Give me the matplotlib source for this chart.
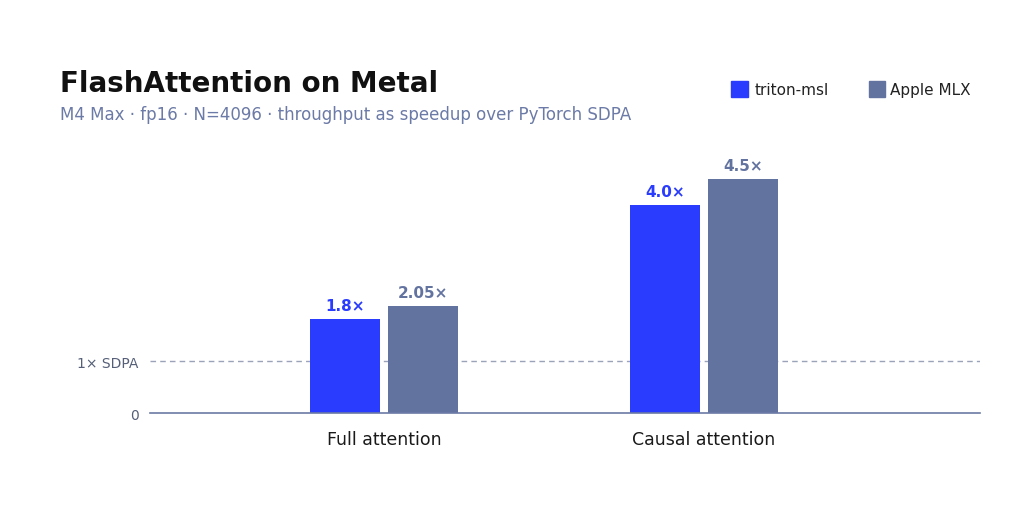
import matplotlib.pyplot as plt
import numpy as np

plt.rcParams['font.family'] = ['DejaVu Sans']

groups = ['Full attention', 'Causal attention']
triton = [1.8, 4.0]
mlx = [2.05, 4.5]
triton_lbl = ['1.8×', '4.0×']
mlx_lbl = ['2.05×', '4.5×']

c_triton = '#2a3cfd'
c_mlx = '#6373a0'
c_axis = '#6b7aa6'

fig = plt.figure(figsize=(10.2, 5.1), dpi=100)
ax = fig.add_axes([0.147, 0.188, 0.814, 0.518])

x = np.arange(len(groups))
w = 0.219
off = 0.122
ax.bar(x - off, triton, w, color=c_triton, label='triton-msl')
ax.bar(x + off, mlx, w, color=c_mlx, label='Apple MLX')
for i in range(len(groups)):
    ax.text(x[i] - off, triton[i] + 0.12, triton_lbl[i], ha='center', va='bottom',
            color=c_triton, fontsize=11, fontweight='bold')
    ax.text(x[i] + off, mlx[i] + 0.12, mlx_lbl[i], ha='center', va='bottom',
            color=c_mlx, fontsize=11, fontweight='bold')

ax.axhline(1, color='#9aa3b8', lw=1, ls=(0, (4, 3)), zorder=0)
ax.set_xlim(-0.731, 1.8625)
ax.set_ylim(0, 5.077)
for s in ['top', 'right', 'left']:
    ax.spines[s].set_visible(False)
ax.spines['bottom'].set_color(c_axis)
ax.spines['bottom'].set_linewidth(1.2)
ax.set_yticks([0, 1])
ax.set_yticklabels(['0', '1× SDPA'], color='#555f78', fontsize=10)
ax.set_xticks(x)
ax.set_xticklabels(groups, fontsize=12.5, color='#1a1a1a')
ax.tick_params(axis='both', length=0, pad=8)
ax.tick_params(axis='x', pad=12)

fig.text(0.059, 0.82, 'FlashAttention on Metal', fontsize=20, fontweight='bold',
         color='#111111')
fig.text(0.059, 0.765, 'M4 Max · fp16 · N=4096 · throughput as speedup over PyTorch SDPA',
         fontsize=12, color='#6b7aa6')

fig.patches.append(plt.Rectangle((0.717, 0.807), 0.016, 0.032, color=c_triton,
                                 transform=fig.transFigure, figure=fig))
fig.text(0.740, 0.823, 'triton-msl', fontsize=11, va='center', color='#222222')
fig.patches.append(plt.Rectangle((0.852, 0.807), 0.016, 0.032, color=c_mlx,
                                 transform=fig.transFigure, figure=fig))
fig.text(0.873, 0.823, 'Apple MLX', fontsize=11, va='center', color='#222222')

fig.savefig('out.png', dpi=100, facecolor='white')
